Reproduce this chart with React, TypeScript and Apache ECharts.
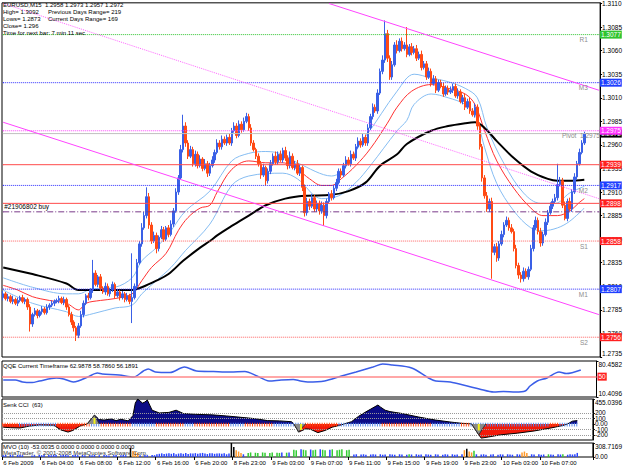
import { useEffect, useRef } from "react";
import * as echarts from "echarts";

// ---------------- data ----------------
const SLOT_COUNT = 246;
const BARS_PER_LABEL = 16;
const tickLabels = ["6 Feb 2009", "6 Feb 04:00", "6 Feb 08:00", "6 Feb 12:00", "6 Feb 16:00", "6 Feb 20:00", "8 Feb 23:00", "9 Feb 03:00", "9 Feb 07:00", "9 Feb 11:00", "9 Feb 15:00", "9 Feb 19:00", "9 Feb 23:00", "10 Feb 03:00", "10 Feb 07:00"];
const priceTicks = [1.2735, 1.276, 1.2785, 1.281, 1.2835, 1.286, 1.2885, 1.291, 1.2935, 1.296, 1.2985, 1.301, 1.3035, 1.306, 1.3085, 1.311];
const qqeTicks = [10.4096, 80.4582];
const cciTicks = [-294.5801, -200, -100, 0, 100, 200, 455.0396];
const mvoTicks = [-0.2237, 0, 308.7169];

const firstOpen = 1.2798;
const closes = [
  1.2802, 1.2797, 1.2799, 1.2794, 1.2796, 1.2792, 1.2795, 1.2798, 1.2794, 1.2796,
  1.2788, 1.277, 1.278, 1.2784, 1.2779, 1.2783, 1.2786, 1.2782, 1.2788, 1.279,
  1.2792, 1.2794, 1.2795, 1.2797, 1.2793, 1.2796, 1.2788, 1.278, 1.2772, 1.2766,
  1.2758, 1.2768, 1.278, 1.2792, 1.28, 1.2798, 1.2806, 1.2824, 1.2812, 1.282,
  1.2808, 1.2804, 1.281, 1.2802, 1.2806, 1.2812, 1.28, 1.2804, 1.2798, 1.2802,
  1.2796, 1.28, 1.2794, 1.2798, 1.281, 1.2835, 1.2855, 1.2872, 1.2885, 1.2905,
  1.2875, 1.2858, 1.2864, 1.285, 1.2862, 1.287, 1.286, 1.2872, 1.2865, 1.2876,
  1.289, 1.291, 1.2925, 1.2955, 1.298, 1.2962, 1.2948, 1.2955, 1.294, 1.295,
  1.2938, 1.2945, 1.2935, 1.294, 1.293, 1.2938, 1.2944, 1.2952, 1.2962, 1.2958,
  1.2966, 1.2962, 1.2968, 1.2962, 1.2975, 1.298, 1.297, 1.2982, 1.2976, 1.2985,
  1.299, 1.2978, 1.2962, 1.2955, 1.2948, 1.294, 1.2928, 1.2936, 1.2922, 1.2932,
  1.294, 1.2948, 1.2942, 1.295, 1.2944, 1.2954, 1.2946, 1.2938, 1.2948, 1.2936,
  1.294, 1.293, 1.2936, 1.2915, 1.2888, 1.29, 1.2895, 1.2904, 1.2892, 1.2898,
  1.289, 1.2896, 1.2885, 1.29, 1.2908, 1.2904, 1.2914, 1.292, 1.2932, 1.2928,
  1.2938, 1.2944, 1.294, 1.295, 1.2946, 1.2958, 1.2964, 1.296, 1.2968, 1.2962,
  1.2978, 1.299, 1.3, 1.2996, 1.3015, 1.3038, 1.305, 1.3078, 1.3052, 1.3032,
  1.3045, 1.3066, 1.306, 1.307, 1.3062, 1.3066, 1.3056, 1.3064, 1.3058, 1.3062,
  1.3052, 1.3056, 1.3042, 1.3046, 1.3032, 1.3038, 1.3025, 1.303, 1.3018, 1.3026,
  1.3022, 1.3014, 1.302, 1.3016, 1.3018, 1.3022, 1.3012, 1.3016, 1.3006, 1.301,
  1.3, 1.3006, 1.2996, 1.2992, 1.3, 1.298, 1.2958, 1.2925, 1.2906, 1.2892,
  1.29, 1.2846, 1.2852, 1.284, 1.2855, 1.2865, 1.2875, 1.288, 1.2872, 1.2868,
  1.285, 1.2832, 1.2822, 1.2818, 1.2826, 1.282, 1.2828, 1.285, 1.2872, 1.288,
  1.2868, 1.2856, 1.2865, 1.2878, 1.2888, 1.2895, 1.29, 1.2904, 1.2918, 1.2922,
  1.2896, 1.2882, 1.29, 1.2892, 1.291, 1.2926, 1.294, 1.2952, 1.2962, 1.2972,
];
// wick extension beyond the body, in pips
const wickUp = [
  3, 2, 3, 2, 4, 2, 3, 2, 3, 2, 2, 3, 2, 3, 2, 2, 3, 2, 3, 2,
  3, 2, 2, 3, 2, 3, 2, 2, 3, 2, 2, 3, 4, 3, 2, 3, 2, 14, 3, 2,
  3, 2, 4, 3, 2, 3, 2, 3, 2, 3, 2, 3, 2, 47, 3, 4, 3, 5, 4, 10,
  4, 3, 4, 3, 2, 4, 3, 2, 3, 4, 3, 4, 3, 5, 12, 4, 3, 4, 3, 4,
  3, 4, 2, 5, 3, 3, 4, 3, 4, 3, 4, 3, 3, 4, 3, 4, 3, 4, 3, 4,
  4, 3, 4, 3, 2, 3, 3, 4, 2, 3, 4, 3, 5, 3, 4, 3, 4, 3, 5, 3,
  3, 4, 3, 2, 3, 4, 3, 4, 3, 3, 3, 4, 3, 3, 2, 4, 3, 4, 3, 3,
  3, 4, 3, 4, 3, 3, 4, 3, 4, 3, 4, 3, 4, 3, 4, 3, 5, 14, 4, 3,
  4, 3, 5, 3, 4, 3, 19, 3, 4, 3, 4, 3, 4, 3, 3, 4, 3, 4, 3, 3,
  3, 4, 3, 3, 4, 3, 3, 4, 3, 3, 4, 3, 4, 3, 4, 3, 4, 3, 3, 4,
  3, 4, 3, 4, 3, 4, 3, 4, 3, 4, 3, 4, 3, 3, 4, 3, 3, 4, 3, 4,
  3, 4, 3, 4, 3, 4, 3, 4, 22, 4, 3, 4, 3, 4, 3, 4, 3, 4, 3, 2,
];
const wickDn = [
  3, 2, 3, 2, 3, 2, 3, 2, 2, 3, 3, 8, 3, 2, 3, 2, 3, 2, 2, 3,
  2, 3, 2, 3, 2, 3, 3, 2, 3, 4, 6, 3, 2, 3, 2, 3, 2, 3, 2, 3,
  3, 2, 3, 2, 3, 2, 3, 2, 3, 2, 3, 2, 3, 23, 2, 3, 2, 3, 2, 3,
  4, 3, 2, 5, 3, 2, 3, 2, 3, 2, 3, 2, 3, 2, 3, 4, 3, 2, 3, 3,
  3, 2, 3, 2, 4, 3, 2, 3, 2, 3, 3, 2, 3, 2, 3, 2, 3, 2, 3, 2,
  2, 3, 3, 2, 3, 3, 4, 2, 5, 3, 3, 2, 3, 3, 2, 3, 3, 4, 3, 2,
  3, 2, 3, 4, 4, 3, 4, 2, 3, 3, 4, 3, 11, 3, 2, 3, 2, 3, 2, 3,
  2, 3, 2, 3, 2, 3, 2, 3, 2, 3, 3, 2, 3, 2, 3, 2, 3, 3, 4, 3,
  3, 2, 3, 2, 3, 2, 3, 2, 3, 2, 3, 2, 3, 2, 3, 2, 3, 2, 3, 2,
  2, 3, 2, 3, 2, 3, 2, 3, 2, 3, 3, 2, 3, 2, 3, 4, 3, 4, 3, 3,
  3, 28, 3, 4, 3, 2, 3, 2, 3, 2, 3, 3, 4, 4, 3, 2, 3, 2, 3, 2,
  3, 4, 3, 2, 3, 2, 3, 2, 3, 2, 3, 2, 3, 2, 3, 2, 3, 2, 2, 2,
];

const maBlack = [[0, 1.283], [12, 1.2823], [26, 1.2813], [31, 1.2806], [40, 1.2806], [53, 1.2806], [57, 1.2809], [63, 1.2816], [68, 1.2823], [74, 1.2837], [81, 1.2851], [85, 1.2858], [88, 1.2864], [94, 1.2874], [101, 1.2885], [108, 1.2896], [116, 1.2903], [124, 1.2906], [135, 1.2907], [142, 1.2911], [149, 1.292], [155, 1.2938], [162, 1.295], [166, 1.2961], [176, 1.2975], [183, 1.298], [190, 1.2983], [194, 1.2984], [198, 1.2978], [203, 1.2964], [210, 1.2946], [217, 1.2932], [224, 1.2924], [228, 1.2922], [233, 1.2922], [239, 1.2923]];
const maRed = [[0, 1.2811], [6, 1.2806], [12, 1.2799], [19, 1.2795], [26, 1.2792], [31, 1.2785], [34, 1.2792], [40, 1.2795], [46, 1.2797], [53, 1.2802], [57, 1.2816], [61, 1.283], [67, 1.2845], [72, 1.2869], [76, 1.2883], [81, 1.2893], [85, 1.2896], [88, 1.291], [94, 1.2934], [101, 1.2943], [108, 1.2941], [115, 1.2941], [121, 1.2934], [126, 1.2924], [131, 1.2917], [135, 1.2917], [139, 1.2924], [145, 1.2938], [151, 1.2956], [158, 1.2983], [162, 1.3], [168, 1.3017], [176, 1.3024], [183, 1.302], [190, 1.3014], [194, 1.3003], [198, 1.2975], [203, 1.2943], [210, 1.2914], [217, 1.2893], [222, 1.2885], [228, 1.2885], [233, 1.289], [237, 1.2899], [239, 1.2903]];
const bandUpper = [[0, 1.2819], [12, 1.2809], [26, 1.2802], [31, 1.2802], [36, 1.2807], [46, 1.2809], [53, 1.2819], [57, 1.2837], [63, 1.2851], [69, 1.2869], [75, 1.289], [85, 1.2911], [94, 1.2943], [101, 1.2951], [108, 1.2953], [115, 1.295], [121, 1.2941], [135, 1.2927], [149, 1.2969], [162, 1.3017], [169, 1.3035], [176, 1.3031], [183, 1.3027], [190, 1.302], [195, 1.301], [199, 1.2978], [206, 1.294], [214, 1.2909], [221, 1.2898], [227, 1.2898], [233, 1.2909], [239, 1.2916]];
const bandLower = [[0, 1.2806], [12, 1.2792], [26, 1.2783], [31, 1.2778], [37, 1.2781], [46, 1.2787], [53, 1.279], [57, 1.2802], [63, 1.2816], [69, 1.283], [75, 1.2848], [85, 1.2876], [94, 1.2917], [101, 1.2927], [115, 1.293], [121, 1.2924], [131, 1.2903], [138, 1.2906], [145, 1.292], [151, 1.2938], [162, 1.2975], [166, 1.2986], [169, 1.3003], [176, 1.3014], [183, 1.301], [190, 1.3003], [194, 1.2993], [198, 1.2957], [203, 1.2919], [210, 1.289], [217, 1.2872], [222, 1.2869], [228, 1.2872], [233, 1.2879], [239, 1.2893]];

const trendUpper = [[134, 1.311], [245, 1.3018]];
const trendDotted = [[0, 1.311], [245, 1.2903]];
const trendLower = [[0, 1.2984], [245, 1.278]];

const levelValues = [1.3077, 1.3026, 1.2972, 1.2975, 1.2939, 1.2917, 1.2898, 1.2889, 1.2858, 1.2807, 1.2756];
const levelTags = ["R1", "M3", "", "Pivot  1.2975", "", "M2", "", "#21906802 buy", "S1", "M1", "S2"];

const qqe = [[0, 43.5], [5, 43.5], [8, 39.6], [12, 38.6], [15, 41.6], [22, 47.4], [25, 45.5], [29, 39.6], [31, 41.6], [35, 49.3], [39, 57.1], [41, 55.2], [48, 53.2], [54, 49.3], [58, 61], [60, 64.9], [63, 59.1], [69, 58], [75, 68.8], [80, 61], [87, 60], [94, 59.1], [100, 60], [105, 51.3], [110, 41.6], [115, 43.5], [120, 44.5], [123, 41.6], [126, 39.6], [133, 41.6], [140, 51.3], [146, 59.1], [153, 68.8], [157, 74.6], [161, 72.7], [169, 66.8], [176, 47.4], [179, 41.6], [185, 39.6], [192, 31.8], [197, 26], [203, 20.1], [207, 21], [212, 20], [216, 22], [218, 31.8], [221, 41.6], [225, 47.4], [230, 59.1], [233, 56], [239, 62.99]];
const qqeLevel = 50;

const cciPositive = [[35, 0], [38, 160], [40, 80], [42, 70], [45, 90], [47, 60], [49, 85], [52, 55], [54, 150], [55, 380], [56, 455], [58, 380], [59, 400], [60, 437], [62, 250], [65, 200], [69, 210], [72, 250], [75, 190], [80, 175], [87, 165], [93, 145], [99, 120], [105, 95], [110, 60], [115, 55], [120, 40], [121, 0], [130, null], [142, 0], [145, 40], [148, 140], [151, 220], [153, 270], [156, 345], [157, 310], [159, 250], [161, 225], [166, 190], [173, 125], [180, 70], [186, 35], [191, 10], [195, 0], [215, null], [235, 0], [237, 50], [239, 60]];
const cciNegative = [[0, -60], [3, -70], [7, -75], [11, -40], [15, -20], [21, -25], [24, -110], [27, -150], [29, -120], [32, -40], [35, 0], [80, null], [121, 0], [123, -150], [126, -90], [128, -100], [131, -160], [134, -120], [137, -60], [141, -15], [142, 0], [170, null], [195, 0], [198, -200], [199, -260], [202, -240], [207, -200], [214, -170], [221, -130], [228, -75], [233, -30], [235, 0]];
const cciTurn = [[35, 0], [38, 160], [40, 0], [80, null], [121, 0], [123, -150], [125, -40], [126, 0], [170, null], [195, 0], [198, -200], [200, -60], [201, 0]];
const cciTurnFlags = [[38, 110], [124, -110], [198, -120]];
const cciGuides = [200, 100, -100, -200];
const stripSegments = [[0, 7, "r"], [7, 23, "b"], [23, 37, "r"], [37, 41, "b"], [41, 54, "r"], [54, 64, "b"], [64, 76, "r"], [76, 80, "b"], [80, 95, "r"], [95, 101, "b"], [101, 113, "r"], [113, 121, "b"], [121, 126, "b"], [126, 140, "r"], [140, 158, "b"], [158, 179, "r"], [179, 191, "b"], [191, 195, "r"], [195, 199, "b"], [199, 228, "b"], [228, 232, "r"], [232, 240, "b"]];
const stripTop = 20;
const stripBottom = -50;

const mvoValues = [
  40, 45, 0, 50, 40, 0, 45, 50, 40, 0, 0, 0, 35, 40, 0, 45, 40, 50, 0, 45,
  40, 50, 45, 0, 40, 45, 50, 40, 0, 45, 50, 40, 0, 45, 40, 0, 35, 40, 45, 0,
  40, 0, 45, 40, 35, 0, 40, 45, 0, 40, 45, 40, 0, 200, 130, 110, 90, 40, 0, 45,
  40, 0, 45, 40, 60, 70, 80, 65, 75, 80, 70, 85, 60, 75, 80, 70, 90, 65, 80, 75,
  85, 70, 80, 90, 75, 65, 80, 85, 70, 75, 80, 70, 85, 60, 75, 308, 220, 150, 120, 90,
  60, 0, 90, 100, 0, 95, 90, 0, 100, 95, 0, 90, 100, 0, 95, 90, 100, 0, 95, 100,
  0, 160, 150, 0, 170, 160, 150, 0, 165, 150, 160, 0, 170, 160, 150, 0, 160, 170, 0, 150,
  160, 170, 0, 150, 160, 0, 55, 60, 0, 55, 60, 50, 0, 55, 60, 55, 0, 60, 50, 55,
  0, 60, 55, 50, 0, 60, 55, 0, 50, 60, 55, 0, 60, 50, 55, 0, 60, 55, 50, 0,
  60, 55, 0, 50, 60, 55, 0, 60, 50, 55, 0, 60, 150, 180, 120, 100, 140, 60, 0, 55,
  60, 50, 0, 55, 60, 0, 50, 60, 55, 0, 60, 55, 50, 0, 60, 55, 100, 120, 90, 0,
  60, 55, 0, 60, 50, 55, 0, 60, 55, 50, 0, 60, 55, 60, 0, 50, 60, 55, 60, 90,
];
const mvoKinds = [
  "bbbbbbbbbbbbbbbbbbbb", "bbbbbbbbbbbbbbbbbbbb", "bbbbbbbbbbbbbkooobbb", "bbbbbbbbbbbbbbbbbbbb",
  "bbbbbbbbbbbbbbbkkooo", "bgggbggbggbggbggbggb", "bgggbgggbgggbgggbggg", "ggbggbbbbbbbbbbbbbbb",
  "bbbbbbbbbgbbbbbbbbbb", "bbbbbbbbbbbbokoogbbb", "bbbbbbbbbbbbbbbbooob", "bbgbbbbgbbbbbgbbbbbb",
].join("");

// ---------------- styling ----------------
const FONT = "'Liberation Sans', Arial, sans-serif";
const levelLook = [
  { line: "#2fc42f", type: "dotted", box: "#2fc42f" },
  { line: "#2b2bff", type: "dotted", box: "#1f3fff" },
  { line: "#c0c0c0", type: "solid", box: "#000000" },
  { line: "#ff44ff", type: "dotted", box: "#ff33ff" },
  { line: "#ff4a4a", type: "solid", box: "#ff2020" },
  { line: "#2b2bff", type: "dotted", box: "#1f3fff" },
  { line: "#ff4a4a", type: "solid", box: "#ff2020" },
  { line: "#7a3a8a", type: [6, 2, 1, 2], box: "" },
  { line: "#ff6060", type: "dotted", box: "#ff2020" },
  { line: "#2b2bff", type: "dotted", box: "#1f3fff" },
  { line: "#ff6060", type: "dotted", box: "#ff2020" },
];
const stripColor: Record<string, string> = { r: "#ff4a14", b: "#5b8ae8" };
const mvoColor: Record<string, string> = { b: "#2a45ff", g: "#33cc33", o: "#ff9a2a", k: "#000000" };

function buildOption() {
  const cats = Array.from({ length: SLOT_COUNT }, (_, i) => String(i));
  const lastSlot = SLOT_COUNT - 1;
  const candles: number[][] = [];
  let prev = firstOpen;
  closes.forEach((c, j) => {
    const o = prev;
    const hi = Math.max(o, c) + wickUp[j] / 10000;
    const lo = Math.min(o, c) - wickDn[j] / 10000;
    candles.push([o, c, +lo.toFixed(4), +hi.toFixed(4)]);
    prev = c;
  });

  // horizontal levels as 2-point line series, boxed value via endLabel
  const levelSeries: any[] = levelValues.map((v, k) => {
    const look = levelLook[k];
    const tag = levelTags[k];
    const isOrder = k === 7;
    const isPivot = k === 3;
    const pts: any[] = [
      isOrder && tag
        ? { value: [0, v], label: { show: true, position: "top", align: "left", distance: 1, offset: [1, 0], formatter: tag, color: "#000", fontSize: 6.5, fontFamily: FONT } }
        : [0, v],
      !isOrder && tag
        ? { value: [lastSlot, v], label: { show: true, position: "bottom", align: "right", distance: 1, offset: [isPivot ? 1 : -11, 0], formatter: tag, color: "#8c8c8c", fontSize: 6.5, fontFamily: FONT } }
        : [lastSlot, v],
    ];
    return {
      type: "line",
      xAxisIndex: 0,
      yAxisIndex: 0,
      data: pts,
      symbol: "circle",
      symbolSize: 1,
      showSymbol: true,
      silent: true,
      z: isPivot ? 6 : 5,
      lineStyle: { color: look.line, type: look.type, width: 1 },
      itemStyle: { color: look.line },
      endLabel: look.box
        ? { show: true, formatter: v.toFixed(4), backgroundColor: look.box, color: "#fff", fontSize: 6.5, fontFamily: FONT, padding: [1, 1, 0, 1], distance: 1 }
        : { show: false },
    };
  });

  const trend = (pts: number[][], color: string, type: string) => ({
    type: "line",
    xAxisIndex: 0,
    yAxisIndex: 0,
    data: pts,
    symbol: "none",
    silent: true,
    z: 5,
    lineStyle: { color, type, width: 1 },
  });

  const stripCol = (j: number) => {
    const s = stripSegments.find((g) => j >= (g[0] as number) && j < (g[1] as number));
    return stripColor[(s ? s[2] : "b") as string];
  };
  const stripUp = closes.map((_, j) => ({ value: stripTop, itemStyle: { color: stripCol(j) } }));
  const stripDown = closes.map((_, j) => ({ value: stripBottom, itemStyle: { color: stripCol(j) } }));
  const mvoData = mvoValues.map((v, j) => ({ value: v, itemStyle: { color: mvoColor[mvoKinds[j]] } }));

  const grids = [
    { top: 1, height: 356 },
    { top: 361, height: 36 },
    { top: 399, height: 41 },
    { top: 443, height: 14 },
  ].map((g) => ({ ...g, left: 2, right: 22, show: true, borderColor: "#000", borderWidth: 1, backgroundColor: "#fff" }));

  const labelIdx = (i: number) => i % BARS_PER_LABEL === 0 && i / BARS_PER_LABEL < tickLabels.length;
  const xAxes = [0, 1, 2, 3].map((g) => ({
    type: "category",
    gridIndex: g,
    data: cats,
    boundaryGap: true,
    show: g === 3,
    axisLine: { show: false },
    axisTick: { show: g === 3, interval: labelIdx, length: 3, lineStyle: { color: "#000" } },
    axisLabel: {
      show: g === 3,
      interval: labelIdx,
      formatter: (_v: string, i: number) => tickLabels[i / BARS_PER_LABEL] ?? "",
      align: "left",
      fontSize: 6,
      fontFamily: FONT,
      color: "#000",
      margin: 3,
    },
    splitLine: { show: false },
  }));

  const yBase = (g: number, min: number, max: number, ticks: number[], fmt: (v: number) => string, extra: any = {}) => ({
    type: "value",
    gridIndex: g,
    position: "right",
    min,
    max,
    axisLine: { show: true, lineStyle: { color: "#000" } },
    axisTick: { show: true, length: 2, customValues: ticks, lineStyle: { color: "#000" } },
    axisLabel: { customValues: ticks, formatter: fmt, fontSize: 6.5, fontFamily: FONT, color: "#000", margin: 2, ...extra },
    splitLine: { show: false },
  });

  const yAxes = [
    yBase(0, 1.2735, 1.31107, priceTicks, (v) => v.toFixed(4), { verticalAlignMinLabel: "bottom" }),
    yBase(1, 10.4096, 80.4582, qqeTicks, (v) => v.toFixed(4), { verticalAlignMinLabel: "bottom", verticalAlignMaxLabel: "top" }),
    yBase(2, -294.5801, 455.0396, cciTicks, (v) => (v === 0 ? "0.00" : Number.isInteger(v) ? String(v) : v.toFixed(4)), { verticalAlignMinLabel: "bottom", verticalAlignMaxLabel: "top" }),
    yBase(3, -0.2237, 308.7169, mvoTicks, (v) => (v === 0 ? "0.00" : v.toFixed(4)), { verticalAlignMinLabel: "bottom", verticalAlignMaxLabel: "top" }),
  ];

  const mainLine = (data: number[][], color: string, width: number) => ({
    type: "line",
    xAxisIndex: 0,
    yAxisIndex: 0,
    data,
    symbol: "none",
    smooth: 0.35,
    lineStyle: { color, width },
    silent: true,
    z: 3,
  });

  const txt = (x: number, y: number, text: string, fill = "#000") => ({
    type: "text",
    x,
    y,
    silent: true,
    z: 100,
    style: { text, fill, font: `6px ${FONT}`, textVerticalAlign: "top" },
  });

  return {
    animation: false,
    backgroundColor: "#fff",
    textStyle: { fontFamily: FONT },
    grid: grids,
    xAxis: xAxes,
    yAxis: yAxes,
    series: [
      ...levelSeries,
      trend(trendUpper, "#ff44ff", "solid"),
      trend(trendDotted, "#ff66ff", "dotted"),
      trend(trendLower, "#ff44ff", "solid"),
      mainLine(bandUpper, "#86bdf2", 1),
      mainLine(bandLower, "#86bdf2", 1),
      mainLine(maRed, "#ff3030", 1),
      {
        type: "candlestick",
        xAxisIndex: 0,
        yAxisIndex: 0,
        data: candles,
        barWidth: 2,
        silent: true,
        z: 4,
        itemStyle: { color: "#3a60e6", color0: "#ff4a14", borderColor: "#3a60e6", borderColor0: "#ff4a14", borderWidth: 1 },
      },
      { ...mainLine(maBlack, "#000000", 2), z: 4 },
      {
        type: "line",
        xAxisIndex: 1,
        yAxisIndex: 1,
        data: qqe,
        symbol: "none",
        smooth: 0.3,
        lineStyle: { color: "#3b5ee8", width: 1.5 },
        silent: true,
        z: 3,
        markLine: {
          symbol: ["none", "none"],
          silent: true,
          data: [
            {
              yAxis: qqeLevel,
              lineStyle: { color: "#ff8a8a", width: 1.5, type: "solid" },
              label: { show: true, position: "end", formatter: String(qqeLevel), backgroundColor: "#ff2020", color: "#fff", fontSize: 6.5, fontFamily: FONT, padding: [1, 1, 0, 1], distance: 1 },
            },
          ],
        },
      },
      {
        type: "line",
        xAxisIndex: 2,
        yAxisIndex: 2,
        data: cciPositive,
        symbol: "none",
        connectNulls: false,
        lineStyle: { color: "#000", width: 1 },
        areaStyle: { color: "#0c0c86", opacity: 1, origin: 0 },
        silent: true,
        z: 2,
        markLine: {
          symbol: ["none", "none"],
          silent: true,
          label: { show: false },
          lineStyle: { color: "#9a9a9a", type: "dotted", width: 1 },
          data: cciGuides.map((v) => ({ yAxis: v })),
        },
      },
      {
        type: "line",
        xAxisIndex: 2,
        yAxisIndex: 2,
        data: cciNegative,
        symbol: "none",
        connectNulls: false,
        lineStyle: { color: "#000", width: 1 },
        areaStyle: { color: "#f21a0a", opacity: 1, origin: 0 },
        silent: true,
        z: 2,
      },
      {
        type: "bar",
        xAxisIndex: 2,
        yAxisIndex: 2,
        data: stripUp,
        stack: "strip",
        barCategoryGap: "0%",
        barGap: "-100%",
        silent: true,
        z: 3,
      },
      {
        type: "bar",
        xAxisIndex: 2,
        yAxisIndex: 2,
        data: stripDown,
        stack: "strip",
        barCategoryGap: "0%",
        barGap: "-100%",
        silent: true,
        z: 3,
      },
      {
        type: "line",
        xAxisIndex: 2,
        yAxisIndex: 2,
        data: cciTurn,
        symbol: "none",
        connectNulls: false,
        lineStyle: { color: "#333", width: 1 },
        areaStyle: { color: "#8a8a8a", opacity: 1, origin: 0 },
        silent: true,
        z: 4,
      },
      {
        type: "bar",
        xAxisIndex: 2,
        yAxisIndex: 2,
        data: cciTurnFlags,
        barWidth: 2,
        barGap: "-100%",
        itemStyle: { color: "#f2f21a" },
        silent: true,
        z: 5,
      },
      {
        type: "bar",
        xAxisIndex: 3,
        yAxisIndex: 3,
        data: mvoData,
        barWidth: 1.5,
        silent: true,
        z: 3,
      },
    ],
    graphic: {
      elements: [
        txt(3, 2, "EURUSD,M15  1.2958 1.2973 1.2957 1.2972"),
        txt(3, 9, "High= 1.3092"),
        txt(48, 9, "Previous Days Range= 219"),
        txt(3, 16, "Lows= 1.2873"),
        txt(48, 16, "Current Days Range= 169"),
        txt(3, 23, "Close= 1.296"),
        txt(3, 30, "Time for next bar: 7 min 11 sec"),
        txt(3, 363, "QQE Current Timeframe 62.9878 58.7860 56.1891"),
        txt(3, 402, "Senk CCI  (63)"),
        txt(3, 444, "MVO (10) -53.0035 0.0000 0.0000 0.0000 0.0000"),
        txt(3, 450, "MetaTrader, © 2001-2008 MetaQuotes Software Corp.", "#3a3a3a"),
      ],
    },
  };
}

export default function App() {
  const ref = useRef<HTMLDivElement>(null);
  useEffect(() => {
    if (!ref.current) return;
    const chart = echarts.init(ref.current, undefined, { renderer: "svg" });
    chart.setOption(buildOption() as any);
    return () => chart.dispose();
  }, []);
  return <div ref={ref} style={{ position: "fixed", left: 0, top: 0, width: 625, height: 469, background: "#fff" }} />;
}
